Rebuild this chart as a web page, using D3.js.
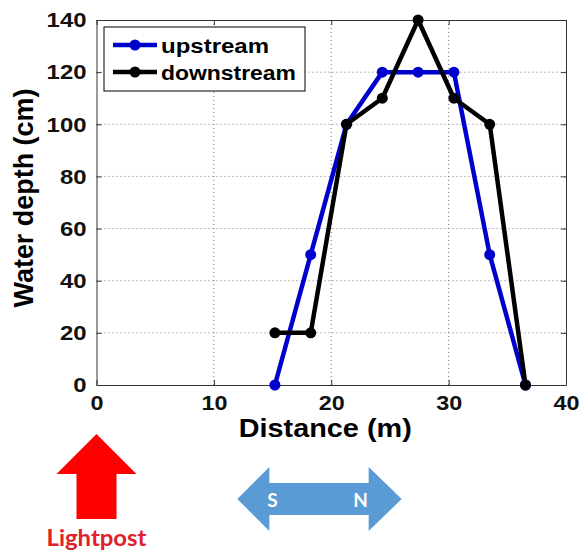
<!DOCTYPE html>
<html>
<head>
<meta charset="utf-8">
<script src="https://cdn.jsdelivr.net/npm/d3@7"></script>
<style>
  body { margin: 0; background: #fff; }
  svg { display: block; }
</style>
</head>
<body>
<script>
// distance along the cross-section (m)
const distance = [15.2, 18.25, 21.3, 24.35, 27.4, 30.45, 33.5, 36.55];
// water depth (cm)
const upstream = [0, 50, 100, 120, 120, 120, 50, 0];
const downstream = [20, 20, 100, 110, 140, 110, 100, 0];

const xTicks = [0, 10, 20, 30, 40];
const yTicks = [0, 20, 40, 60, 80, 100, 120, 140];

const seriesNames = ['upstream', 'downstream'];
const seriesColors = ['#0000cc', '#000000'];

const width = 581;
const height = 552;
const margin = { top: 20, right: 15, bottom: 167, left: 96.5 };

const x = d3.scaleLinear().domain([0, 40]).range([margin.left, width - margin.right]);
const y = d3.scaleLinear().domain([0, 140]).range([height - margin.bottom, margin.top]);

const svg = d3.select('body').append('svg')
  .attr('width', width)
  .attr('height', height);

svg.append('rect').attr('width', width).attr('height', height).attr('fill', 'white');

const font = '"Liberation Sans", Arial, sans-serif';

// grid lines (dotted)
svg.append('g')
  .selectAll('line')
  .data(xTicks.slice(1, -1))
  .join('line')
  .attr('x1', d => x(d)).attr('x2', d => x(d))
  .attr('y1', y(0)).attr('y2', y(140))
  .attr('stroke', '#777').attr('stroke-width', 1)
  .attr('stroke-dasharray', '1,3');

svg.append('g')
  .selectAll('line')
  .data(yTicks.slice(1, -1))
  .join('line')
  .attr('x1', x(0)).attr('x2', x(40))
  .attr('y1', d => y(d)).attr('y2', d => y(d))
  .attr('stroke', '#777').attr('stroke-width', 1)
  .attr('stroke-dasharray', '1,3');

// axes (MATLAB-style inward ticks, box on)
function styleAxis(g) {
  g.select('.domain').attr('stroke', '#333');
  g.selectAll('.tick line').attr('stroke', '#333');
}

svg.append('g')
  .attr('transform', `translate(0,${y(0)})`)
  .call(d3.axisBottom(x).tickValues(xTicks).tickSizeInner(-5).tickSizeOuter(0).tickPadding(10))
  .call(styleAxis)
  .call(g => g.selectAll('text')
    .attr('font-family', font).attr('font-weight', 'bold').attr('font-size', 21)
    .attr('fill', '#111')
    .attr('textLength', d => String(d).length * 13)
    .attr('lengthAdjust', 'spacingAndGlyphs'));

svg.append('g')
  .attr('transform', `translate(${x(0)},0)`)
  .call(d3.axisLeft(y).tickValues(yTicks).tickSizeInner(-5).tickSizeOuter(0).tickPadding(10))
  .call(styleAxis)
  .call(g => g.selectAll('text')
    .attr('font-family', font).attr('font-weight', 'bold').attr('font-size', 21)
    .attr('fill', '#111')
    .attr('textLength', d => String(d).length * 13.3)
    .attr('lengthAdjust', 'spacingAndGlyphs'));

svg.append('g')
  .attr('transform', `translate(0,${y(140)})`)
  .call(d3.axisTop(x).tickValues(xTicks).tickSizeInner(-5).tickSizeOuter(0).tickFormat(''))
  .call(styleAxis);

svg.append('g')
  .attr('transform', `translate(${x(40)},0)`)
  .call(d3.axisRight(y).tickValues(yTicks).tickSizeInner(-5).tickSizeOuter(0).tickFormat(''))
  .call(styleAxis);

// axis labels
svg.append('text')
  .attr('x', (x(0) + x(40)) / 2 - 6)
  .attr('y', 437)
  .attr('text-anchor', 'middle')
  .attr('font-family', font).attr('font-weight', 'bold').attr('font-size', 26)
  .attr('textLength', 173).attr('lengthAdjust', 'spacingAndGlyphs')
  .text('Distance (m)');

svg.append('text')
  .attr('transform', 'translate(33,198) rotate(-90)')
  .attr('text-anchor', 'middle')
  .attr('font-family', font).attr('font-weight', 'bold').attr('font-size', 27)
  .attr('textLength', 219).attr('lengthAdjust', 'spacingAndGlyphs')
  .text('Water depth (cm)');

// series
const series = [upstream, downstream];
const line = d3.line().x((d, i) => x(distance[i])).y(d => y(d));

series.forEach((vals, k) => {
  svg.append('path')
    .datum(vals)
    .attr('fill', 'none')
    .attr('stroke', seriesColors[k])
    .attr('stroke-width', 4.5)
    .attr('stroke-linejoin', 'round')
    .attr('d', line);
});
series.forEach((vals, k) => {
  svg.append('g')
    .selectAll('circle')
    .data(vals)
    .join('circle')
    .attr('cx', (d, i) => x(distance[i]))
    .attr('cy', d => y(d))
    .attr('r', 5.5)
    .attr('fill', seriesColors[k]);
});

// legend
const legend = svg.append('g');
legend.append('rect')
  .attr('x', 104).attr('y', 27).attr('width', 201).attr('height', 64)
  .attr('fill', 'white').attr('stroke', '#000').attr('stroke-width', 1);

const legendItems = legend.selectAll('g.item')
  .data(seriesNames)
  .join('g')
  .attr('class', 'item')
  .attr('transform', (d, i) => `translate(0,${45 + i * 27})`);

legendItems.append('line')
  .attr('x1', 113).attr('x2', 157)
  .attr('stroke', (d, i) => seriesColors[i]).attr('stroke-width', 4.5);
legendItems.append('circle')
  .attr('cx', 135).attr('r', 5.5)
  .attr('fill', (d, i) => seriesColors[i]);
legendItems.append('text')
  .attr('x', 161).attr('y', 8)
  .attr('font-family', font).attr('font-weight', 'bold').attr('font-size', 20)
  .attr('textLength', d => d.length * 13.5).attr('lengthAdjust', 'spacingAndGlyphs')
  .text(d => d);

// lightpost marker (red up arrow at distance 0)
const lx = x(0);
svg.append('path')
  .attr('d', `M${lx},434 L${lx + 40},474 L${lx + 20},474 L${lx + 20},519 L${lx - 20},519 L${lx - 20},474 L${lx - 40},474 Z`)
  .attr('fill', '#ff0000');
svg.append('text')
  .attr('x', lx).attr('y', 546)
  .attr('text-anchor', 'middle')
  .attr('font-family', 'Lato, "Open Sans", sans-serif').attr('font-weight', 'bold').attr('font-size', 22)
  .attr('fill', '#e0202a')
  .attr('textLength', 100).attr('lengthAdjust', 'spacingAndGlyphs')
  .text('Lightpost');

// S-N direction double arrow
const ax0 = x(12), ax1 = x(26);
svg.append('path')
  .attr('d', `M${ax0},499 L${ax0 + 32},467 L${ax0 + 32},483 L${ax1 - 33},483 L${ax1 - 33},467 L${ax1},499 L${ax1 - 33},531 L${ax1 - 33},515 L${ax0 + 32},515 L${ax0 + 32},531 Z`)
  .attr('fill', '#5b9bd5');
svg.append('text')
  .attr('x', x(15)).attr('y', 507)
  .attr('text-anchor', 'middle')
  .attr('font-family', 'Lato, "Open Sans", sans-serif').attr('font-weight', 'bold').attr('font-size', 19)
  .attr('fill', 'white')
  .text('S');
svg.append('text')
  .attr('x', x(22.5)).attr('y', 507)
  .attr('text-anchor', 'middle')
  .attr('font-family', 'Lato, "Open Sans", sans-serif').attr('font-weight', 'bold').attr('font-size', 19)
  .attr('fill', 'white')
  .text('N');
</script>
</body>
</html>
